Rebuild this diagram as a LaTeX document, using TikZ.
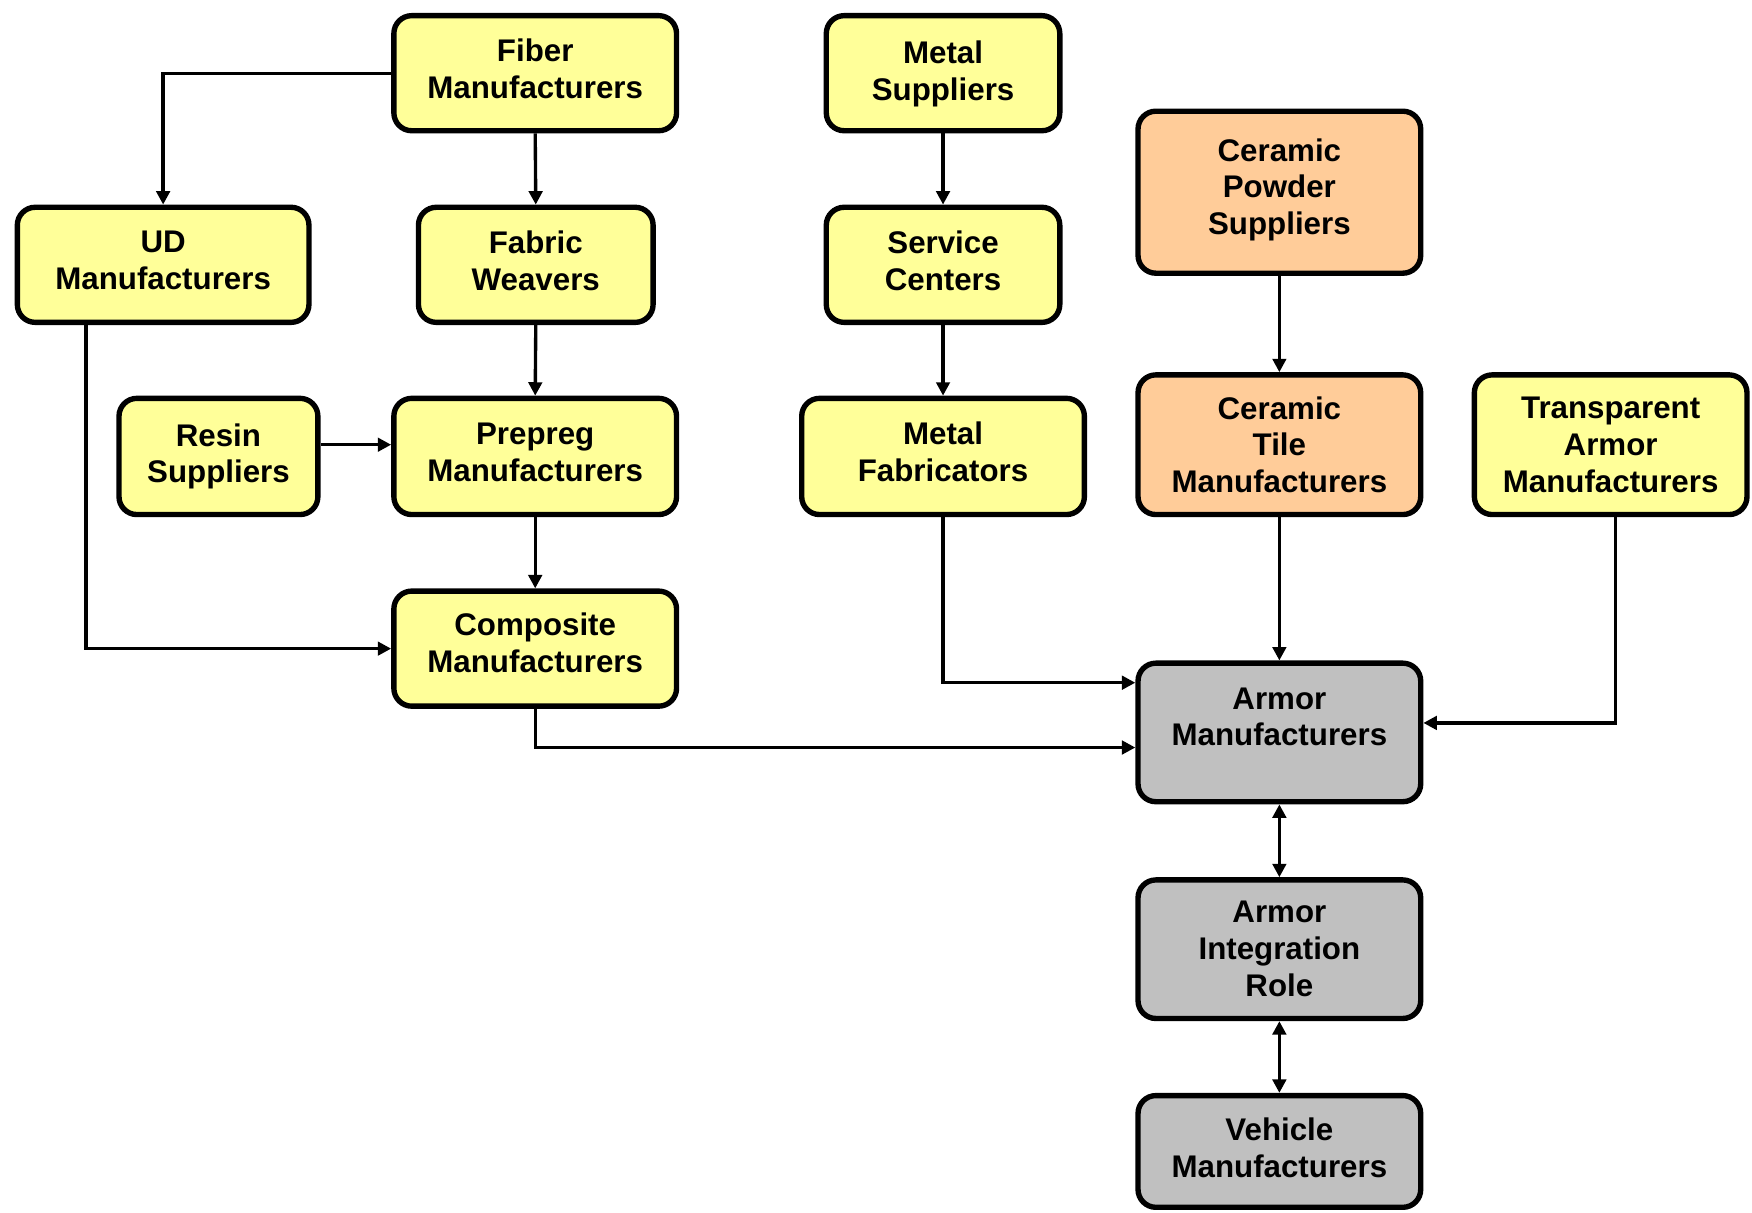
\documentclass[tikz,border=0pt]{standalone}
\usepackage{fontspec}
\setmainfont{Liberation Sans}
\usetikzlibrary{arrows.meta}
\definecolor{boxyellow}{HTML}{FFFF99}
\definecolor{boxorange}{HTML}{FFCC99}
\definecolor{boxgray}{HTML}{C0C0C0}
\tikzset{
  box/.style={draw=black, line width=4.8pt, rounded corners=16pt, align=center,
    inner sep=0pt,
    font=\fontsize{28}{33}\selectfont\bfseries},
  ybox/.style={box, fill=boxyellow},
  obox/.style={box, fill=boxorange},
  gbox/.style={box, fill=boxgray},
  arr/.style={line width=3pt, -{Triangle[length=12pt,width=12pt]}},
  arrtwo/.style={line width=3pt, {Triangle[length=12pt,width=12pt]}-{Triangle[length=12pt,width=12pt]}},
}
\begin{document}
\begin{tikzpicture}[x=1pt,y=-1pt]
\useasboundingbox (0,0) rectangle (1568,1085);
\node[ybox, minimum width=253pt, minimum height=103pt] (fiber) at (479,65.5) {Fiber\\Manufacturers\\[-25pt]\mbox{}};
\node[ybox, minimum width=209pt, minimum height=103pt] (metals) at (844,65.5) {Metal\\Suppliers\\[-29pt]\mbox{}};
\node[obox, minimum width=253pt, minimum height=145pt] (cpowder) at (1145,172) {Ceramic\\Powder\\Suppliers\\[-23pt]\mbox{}};
\node[ybox, minimum width=261pt, minimum height=103pt] (ud) at (146,237) {UD\\Manufacturers\\[-25pt]\mbox{}};
\node[ybox, minimum width=210pt, minimum height=103pt] (fabric) at (479.5,237) {Fabric\\Weavers\\[-25pt]\mbox{}};
\node[ybox, minimum width=209pt, minimum height=103pt] (service) at (844,237) {Service\\Centers\\[-25pt]\mbox{}};
\node[ybox, minimum width=178pt, minimum height=104pt] (resin) at (195.5,408.5) {Resin\\Suppliers};
\node[ybox, minimum width=253pt, minimum height=104pt] (prepreg) at (479,408.5) {Prepreg\\Manufacturers\\[-25pt]\mbox{}};
\node[ybox, minimum width=253pt, minimum height=104pt] (metalfab) at (844,408.5) {Metal\\Fabricators\\[-25pt]\mbox{}};
\node[obox, minimum width=253pt, minimum height=125pt] (ctile) at (1145,398) {Ceramic\\Tile\\Manufacturers};
\node[ybox, minimum width=244pt, minimum height=125pt] (transp) at (1441.5,398) {Transparent\\Armor\\Manufacturers};
\node[ybox, minimum width=253pt, minimum height=103pt] (composite) at (479,580.5) {Composite\\Manufacturers\\[-23pt]\mbox{}};
\node[gbox, minimum width=253pt, minimum height=124pt] (armor) at (1145,655.5) {Armor\\Manufacturers\\[-5pt]\mbox{}};
\node[gbox, minimum width=253pt, minimum height=124pt] (integ) at (1145,849.5) {Armor\\Integration\\Role};
\node[gbox, minimum width=253pt, minimum height=100pt] (vehicle) at (1145,1030.5) {Vehicle\\Manufacturers\\[-27pt]\mbox{}};

\draw[arr] (fiber.west) -| (ud.north);
\draw[arr] (fiber.south) -- (fabric.north);
\draw[arr] (fabric.south) -- (prepreg.north);
\draw[arr] (resin.east |- 0,398) -- (prepreg.west |- 0,398);
\draw[arr] (ud.south -| 77,0) |- (composite.west);
\draw[arr] (prepreg.south) -- (composite.north);
\draw[arr] (composite.south) |- (armor.west |- 0,669);
\draw[arr] (metals.south) -- (service.north);
\draw[arr] (service.south) -- (metalfab.north);
\draw[arr] (metalfab.south) |- (armor.west |- 0,611);
\draw[arr] (cpowder.south) -- (ctile.north);
\draw[arr] (ctile.south) -- (armor.north);
\draw[arr] (transp.south -| 1446,0) |- (armor.east |- 0,647);
\draw[arrtwo] (armor.south) -- (integ.north);
\draw[arrtwo] (integ.south) -- (vehicle.north);
\end{tikzpicture}
\end{document}
